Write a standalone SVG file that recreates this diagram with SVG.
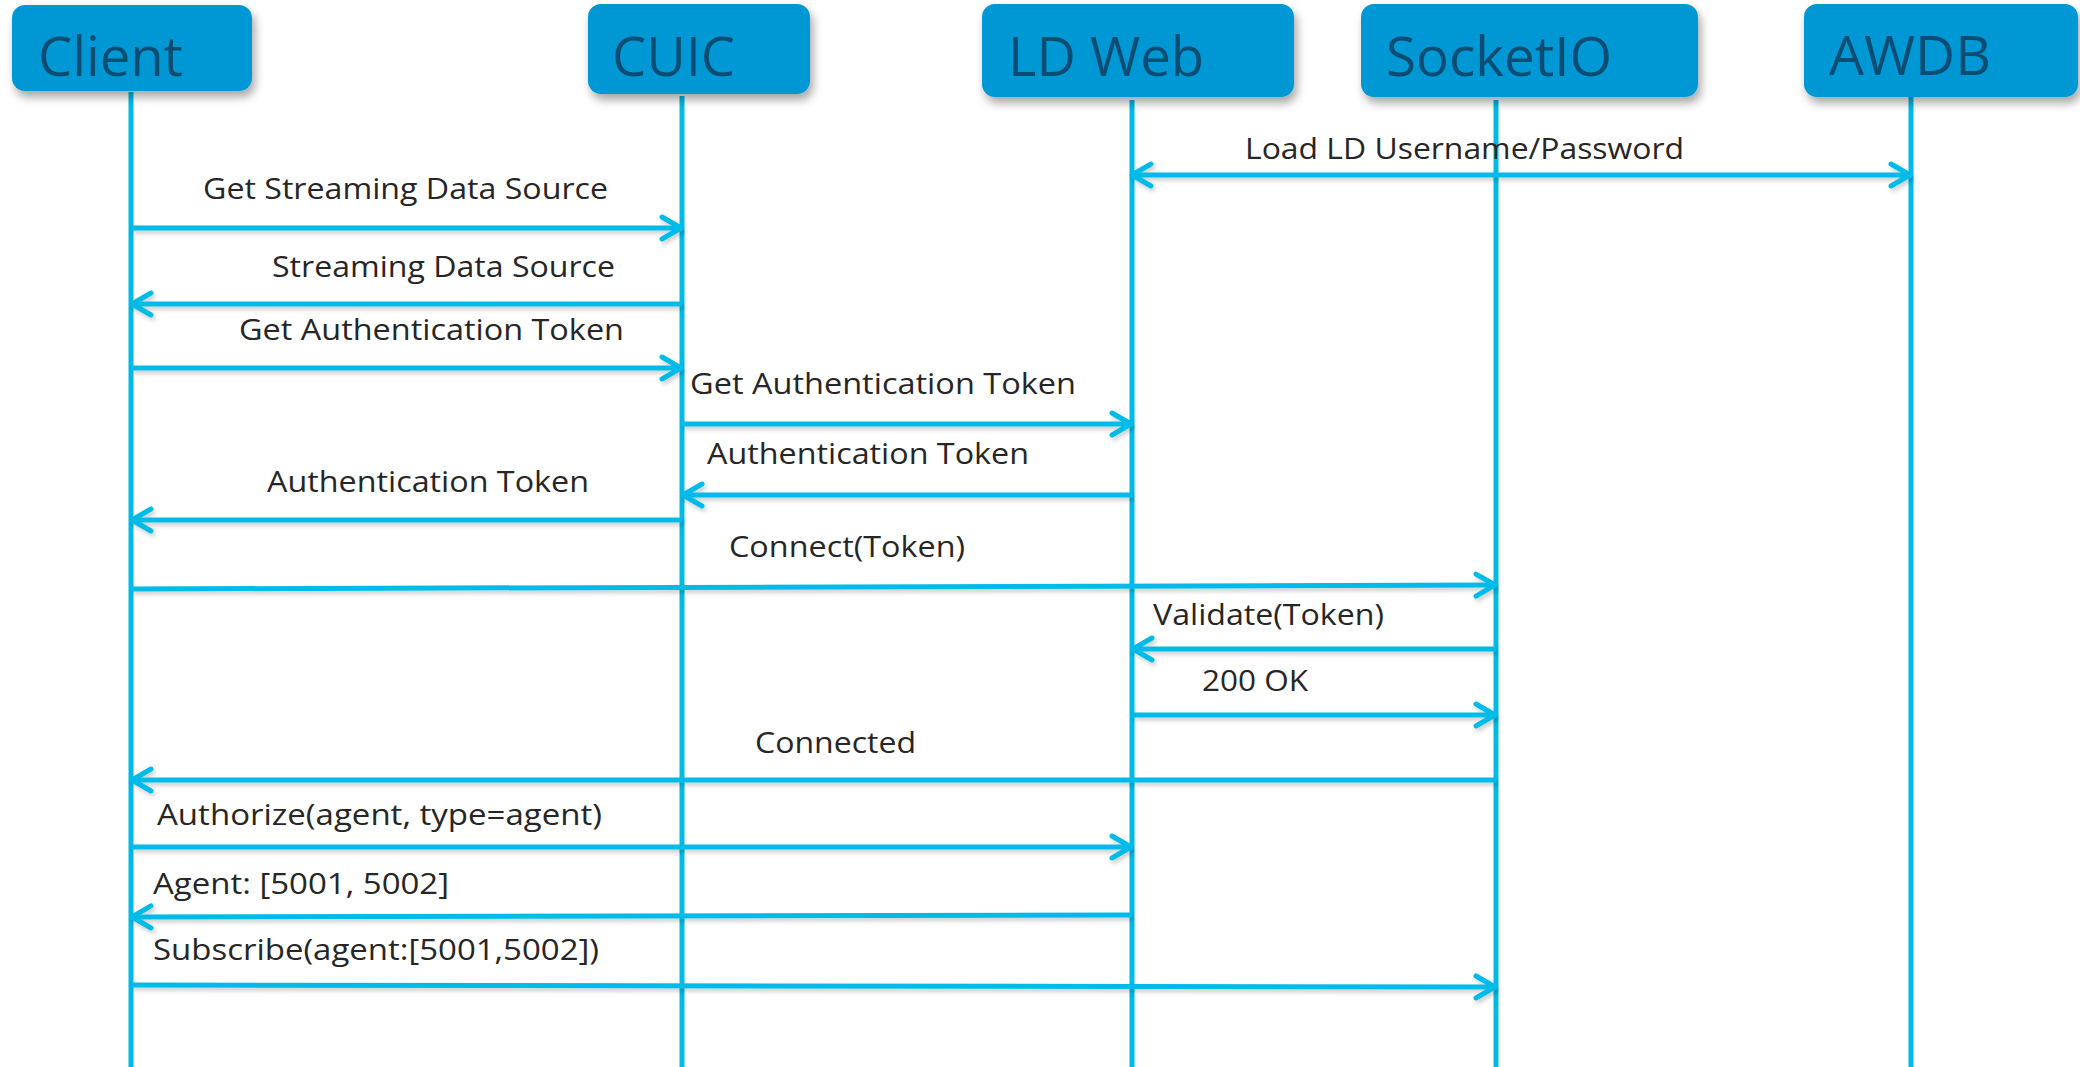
<svg xmlns="http://www.w3.org/2000/svg" width="2080" height="1067" viewBox="0 0 2080 1067">
<style>
.box{fill:#0397D5;filter:url(#bs);}
.hd{font-family:"Open Sans","Liberation Sans",sans-serif;font-size:55px;fill:#0B4D72;}
.life{stroke:#00BAE8;stroke-width:5;fill:none;}
.msg{stroke:#00BAE8;stroke-width:5;fill:none;marker-end:url(#ah);filter:url(#ls);}
.lb{font-family:"Open Sans","Liberation Sans",sans-serif;font-size:29px;fill:#262626;}
</style>
<defs>
<filter id="bs" x="-10%" y="-20%" width="125%" height="150%">
<feDropShadow dx="3" dy="6" stdDeviation="5" flood-color="#000" flood-opacity="0.35"/>
</filter>
<filter id="ls" filterUnits="userSpaceOnUse" x="0" y="0" width="2080" height="1067">
<feDropShadow dx="2" dy="3" stdDeviation="2" flood-color="#000" flood-opacity="0.2"/>
</filter>
<marker id="ah" markerUnits="userSpaceOnUse" viewBox="0 0 26 28" markerWidth="26" markerHeight="28" refX="23" refY="14" orient="auto-start-reverse">
<path d="M4,3 L23,14 L4,25" fill="none" stroke="#00BAE8" stroke-width="5" stroke-linecap="round" stroke-linejoin="round"/>
</marker>
</defs>
<g id="lifelines">
<line class="life" x1="131" y1="92" x2="131" y2="1067"/>
<line class="life" x1="682" y1="96" x2="682" y2="1067"/>
<line class="life" x1="1132" y1="100" x2="1132" y2="1067"/>
<line class="life" x1="1496" y1="100" x2="1496" y2="1067"/>
<line class="life" x1="1911" y1="97" x2="1911" y2="1067"/>
</g>
<g id="node-client"><rect class="box" x="12" y="5" width="240" height="86" rx="13"/><text class="hd" x="38" y="76" textLength="145" lengthAdjust="spacingAndGlyphs">Client</text></g>
<g id="node-cuic"><rect class="box" x="588" y="4" width="222" height="90" rx="13"/><text class="hd" x="612" y="76" textLength="123" lengthAdjust="spacingAndGlyphs">CUIC</text></g>
<g id="node-ldweb"><rect class="box" x="982" y="4" width="312" height="93" rx="13"/><text class="hd" x="1008" y="76" textLength="196" lengthAdjust="spacingAndGlyphs">LD Web</text></g>
<g id="node-socketio"><rect class="box" x="1361" y="4" width="337" height="93" rx="13"/><text class="hd" x="1386" y="76" textLength="226" lengthAdjust="spacingAndGlyphs">SocketIO</text></g>
<g id="node-awdb"><rect class="box" x="1804" y="4" width="274" height="93" rx="13"/><text class="hd" x="1829" y="75" textLength="162" lengthAdjust="spacingAndGlyphs">AWDB</text></g>
<g id="connectors">
<line class="msg" x1="1132" y1="175" x2="1910" y2="175" marker-start="url(#ah)"/>
<line class="msg" x1="131" y1="228" x2="681" y2="228"/>
<line class="msg" x1="682" y1="304" x2="132" y2="304"/>
<line class="msg" x1="131" y1="368" x2="681" y2="368"/>
<line class="msg" x1="682" y1="424" x2="1131" y2="424"/>
<line class="msg" x1="1132" y1="495" x2="683" y2="495"/>
<line class="msg" x1="682" y1="520" x2="132" y2="520"/>
<line class="msg" x1="131" y1="589" x2="1495" y2="585"/>
<line class="msg" x1="1496" y1="649" x2="1133" y2="649"/>
<line class="msg" x1="1132" y1="715" x2="1495" y2="715"/>
<line class="msg" x1="1496" y1="780" x2="132" y2="780"/>
<line class="msg" x1="131" y1="847" x2="1131" y2="847"/>
<line class="msg" x1="1132" y1="915" x2="132" y2="917"/>
<line class="msg" x1="131" y1="985" x2="1495" y2="987"/>
</g>
<g id="labels">
<text class="lb" x="1245" y="159" textLength="439" lengthAdjust="spacingAndGlyphs">Load LD Username/Password</text>
<text class="lb" x="203" y="199" textLength="405" lengthAdjust="spacingAndGlyphs">Get Streaming Data Source</text>
<text class="lb" x="272" y="277" textLength="343" lengthAdjust="spacingAndGlyphs">Streaming Data Source</text>
<text class="lb" x="239" y="340" textLength="385" lengthAdjust="spacingAndGlyphs">Get Authentication Token</text>
<text class="lb" x="690" y="394" textLength="386" lengthAdjust="spacingAndGlyphs">Get Authentication Token</text>
<text class="lb" x="707" y="464" textLength="322" lengthAdjust="spacingAndGlyphs">Authentication Token</text>
<text class="lb" x="267" y="492" textLength="322" lengthAdjust="spacingAndGlyphs">Authentication Token</text>
<text class="lb" x="729" y="557" textLength="236" lengthAdjust="spacingAndGlyphs">Connect(Token)</text>
<text class="lb" x="1153" y="625" textLength="231" lengthAdjust="spacingAndGlyphs">Validate(Token)</text>
<text class="lb" x="1202" y="691" textLength="106" lengthAdjust="spacingAndGlyphs">200 OK</text>
<text class="lb" x="755" y="753" textLength="161" lengthAdjust="spacingAndGlyphs">Connected</text>
<text class="lb" x="157" y="825" textLength="445" lengthAdjust="spacingAndGlyphs">Authorize(agent, type=agent)</text>
<text class="lb" x="153" y="894" textLength="296" lengthAdjust="spacingAndGlyphs">Agent: [5001, 5002]</text>
<text class="lb" x="153" y="960" textLength="446" lengthAdjust="spacingAndGlyphs">Subscribe(agent:[5001,5002])</text>
</g>
</svg>
